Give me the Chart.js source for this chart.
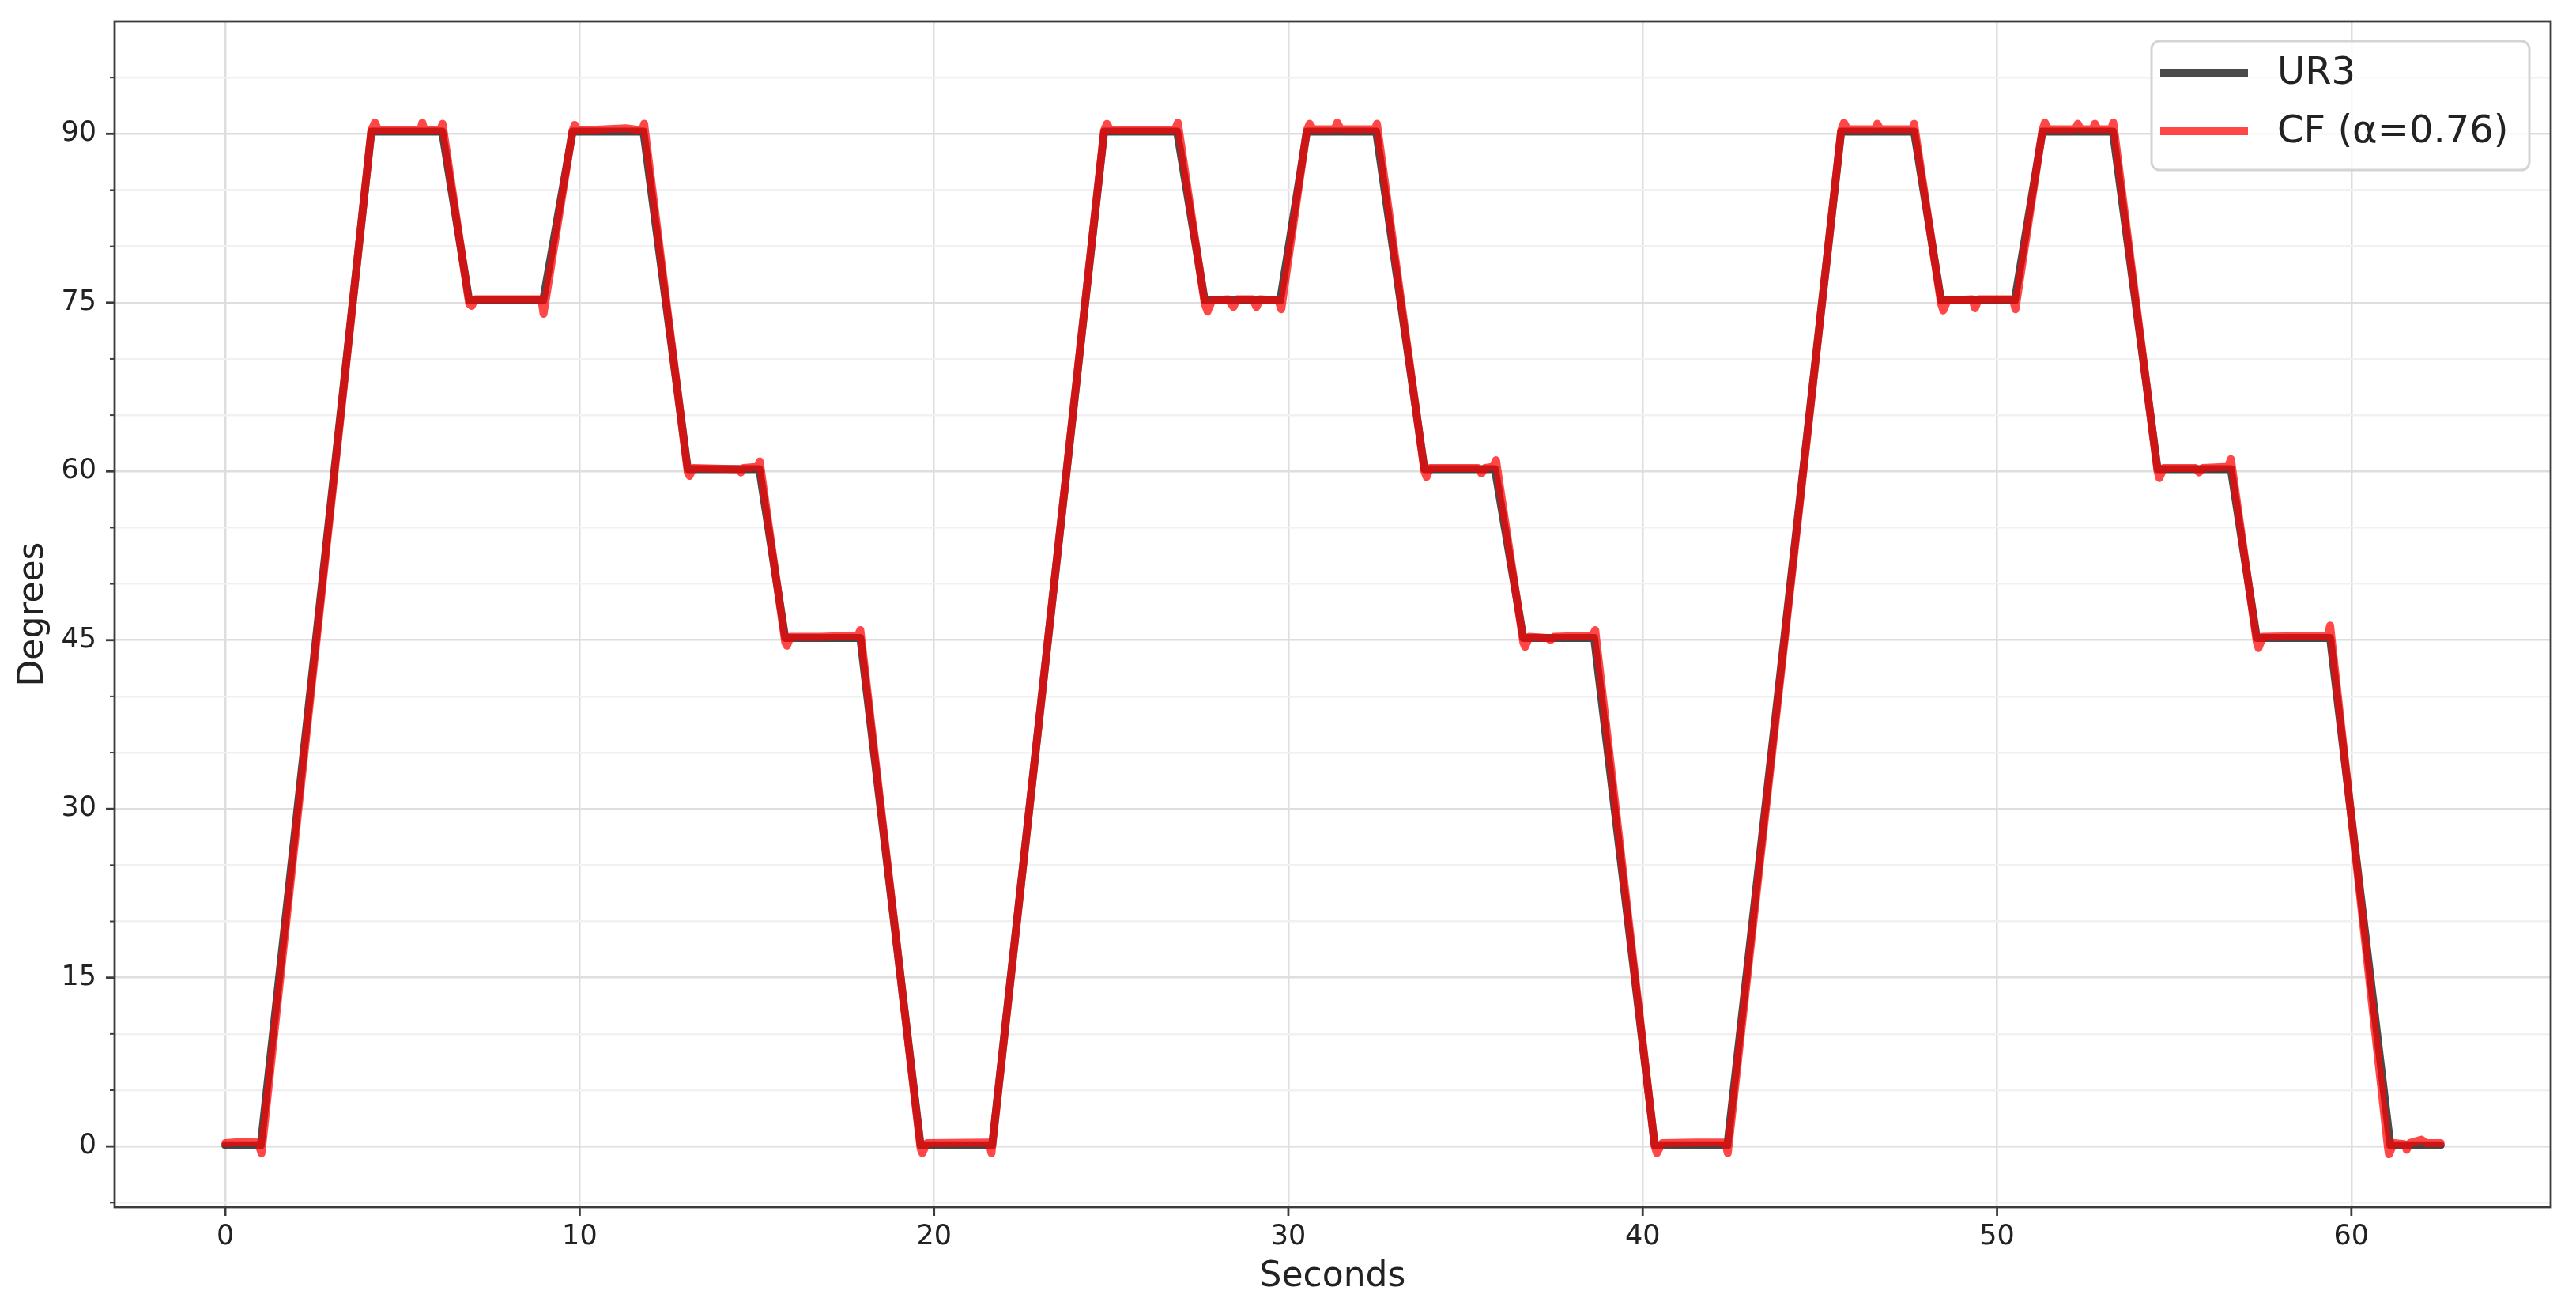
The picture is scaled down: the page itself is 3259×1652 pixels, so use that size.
<!DOCTYPE html>
<html><head><meta charset="utf-8">
<script src="https://cdn.jsdelivr.net/npm/chart.js@4.4.1/dist/chart.umd.min.js"></script>
<style>html,body{margin:0;padding:0;background:#fff;}canvas{display:block;}</style>
</head><body>
<canvas id="c" width="3259" height="1652"></canvas>
<script>
// ---------------- data ----------------
const seriesNames = ['UR3', 'CF (\u03b1=0.76)'];
const axisTitles = { x: 'Seconds', y: 'Degrees' };

// UR3 joint angle: breakpoints (seconds) and values (degrees)
const urT = [0, 1.00, 4.12, 6.12, 6.88, 8.97, 9.80, 11.80, 13.05, 15.07, 15.80, 17.92, 19.62,
  21.64, 24.80, 26.86, 27.64, 29.77, 30.52, 32.48, 33.84, 35.83, 36.63, 38.63, 40.34,
  42.39, 45.60, 47.66, 48.42, 50.50, 51.28, 53.27, 54.53, 56.60, 57.33, 59.40, 61.10, 62.52];
const urV = [0.1, 0.1, 90.2, 90.2, 75.2, 75.2, 90.2, 90.2, 60.2, 60.2, 45.2, 45.2, 0.1,
  0.1, 90.2, 90.2, 75.2, 75.2, 90.2, 90.2, 60.2, 60.2, 45.2, 45.2, 0.1,
  0.1, 90.2, 90.2, 75.2, 75.2, 90.2, 90.2, 60.2, 60.2, 45.2, 45.2, 0.1, 0.1];

// Complementary filter estimate (with its visible spikes)
const cfT = [0.00, 0.45, 0.92, 1.02, 4.12, 4.22, 4.32, 5.50, 5.56, 5.62, 6.06, 6.13, 6.88, 6.95, 7.05, 8.92, 8.98,
  9.80, 9.86, 9.95, 10.60, 11.30, 11.76, 11.82, 13.05, 13.10, 13.20, 14.50, 14.55, 14.62, 15.02, 15.08,
  15.80, 15.85, 15.95, 16.80, 17.85, 17.92, 19.62, 19.67, 19.80, 21.55, 21.62,
  24.80, 24.88, 24.98, 26.20, 26.80, 26.88, 27.64, 27.72, 27.85, 28.30, 28.45, 28.55, 29.00, 29.10, 29.20, 29.72, 29.80,
  30.52, 30.60, 30.70, 31.30, 31.38, 31.48, 32.44, 32.50, 33.84, 33.90, 34.00, 35.35, 35.45, 35.55, 35.78, 35.86,
  36.63, 36.68, 36.80, 37.30, 37.40, 37.50, 38.58, 38.66, 40.34, 40.40, 40.55, 41.50, 42.33, 42.40,
  45.60, 45.68, 45.78, 46.55, 46.62, 46.70, 47.60, 47.66, 48.42, 48.48, 48.60, 49.30, 49.38, 49.48, 50.45, 50.52,
  51.28, 51.35, 51.45, 52.20, 52.28, 52.36, 52.70, 52.76, 52.84, 53.22, 53.28, 54.53, 54.58, 54.70, 55.60, 55.70, 55.80,
  56.52, 56.60, 57.33, 57.38, 57.50, 59.33, 59.40, 61.03, 61.06, 61.20, 61.50, 61.56, 61.65, 61.98, 62.10, 62.52];
const cfV = [0.3, 0.4, 0.35, -0.6, 90.3, 91.0, 90.3, 90.3, 91.0, 90.3, 90.3, 90.9, 74.9, 74.7, 75.3, 75.3, 74.0,
  90.3, 90.8, 90.3, 90.4, 90.5, 90.3, 90.9, 59.9, 59.6, 60.3, 60.2, 59.9, 60.3, 60.4, 60.9,
  44.8, 44.5, 45.3, 45.3, 45.4, 45.9, -0.2, -0.6, 0.3, 0.35, -0.6,
  90.3, 90.9, 90.3, 90.3, 90.4, 91.0, 74.9, 74.2, 75.2, 75.3, 74.6, 75.3, 75.3, 74.6, 75.3, 75.2, 74.4,
  90.3, 90.9, 90.4, 90.4, 91.0, 90.4, 90.4, 90.9, 60.0, 59.5, 60.3, 60.3, 59.8, 60.3, 60.4, 61.0,
  44.8, 44.4, 45.3, 45.2, 45.0, 45.3, 45.4, 45.9, 0.0, -0.6, 0.3, 0.35, 0.35, -0.6,
  90.3, 91.0, 90.4, 90.4, 90.9, 90.4, 90.4, 90.9, 74.9, 74.3, 75.2, 75.3, 74.5, 75.3, 75.3, 74.4,
  90.3, 91.0, 90.4, 90.4, 90.9, 90.4, 90.4, 90.9, 90.4, 90.4, 91.0, 60.0, 59.4, 60.3, 60.3, 59.9, 60.3,
  60.4, 61.1, 44.8, 44.3, 45.3, 45.4, 46.3, -0.1, -0.7, 0.3, 0.2, -0.3, 0.3, 0.6, 0.3, 0.3];

// ticks
const xTicks = [0, 10, 20, 30, 40, 50, 60];
const yMajorTicks = [0, 15, 30, 45, 60, 75, 90];
const yMinorTicks = [-5, 5, 10, 20, 25, 35, 40, 50, 55, 65, 70, 80, 85, 95];

// axis limits
const xLim = [-3.125, 65.625];
const yLim = [-5.4, 100];

// ---------------- chart ----------------
const FONT = '"DejaVu Sans", "Liberation Sans", sans-serif';
const toPts = (t, v) => t.map((x, i) => ({ x, y: v[i] }));
const colors = ['rgba(0,0,0,0.71)', 'rgba(255,0,0,0.72)'];
const LW = 10;

const overlay = {
  id: 'overlay',
  afterDatasetsDraw(chart) {
    const { ctx, chartArea: a, scales: { x, y } } = chart;
    ctx.save();
    const seg = (x1, y1, x2, y2) => { ctx.beginPath(); ctx.moveTo(x1, y1); ctx.lineTo(x2, y2); ctx.stroke(); };
    ctx.strokeStyle = '#3c3c3c';
    ctx.lineCap = 'butt';
    ctx.lineWidth = 2.8;
    xTicks.forEach(v => { const p = x.getPixelForValue(v); seg(p, a.bottom, p, a.bottom + 11); });
    yMajorTicks.forEach(v => { const p = y.getPixelForValue(v); seg(a.left, p, a.left - 11, p); });
    ctx.lineWidth = 2;
    yMinorTicks.forEach(v => { const p = y.getPixelForValue(v); if (p >= a.top && p <= a.bottom) seg(a.left, p, a.left - 6, p); });
    // frame (spines)
    ctx.lineWidth = 2.8;
    ctx.strokeRect(a.left, a.top, a.right - a.left, a.bottom - a.top);

    // legend (upper right, inside axes)
    const bx = a.right - 505, by = a.top + 25, bw = 478, bh = 163, r = 10;
    ctx.beginPath();
    ctx.moveTo(bx + r, by);
    ctx.arcTo(bx + bw, by, bx + bw, by + bh, r);
    ctx.arcTo(bx + bw, by + bh, bx, by + bh, r);
    ctx.arcTo(bx, by + bh, bx, by, r);
    ctx.arcTo(bx, by, bx + bw, by, r);
    ctx.closePath();
    ctx.fillStyle = 'rgba(255,255,255,0.8)';
    ctx.fill();
    ctx.strokeStyle = '#d4d4d4';
    ctx.lineWidth = 3;
    ctx.stroke();
    ctx.font = '48px ' + FONT;
    ctx.textBaseline = 'middle';
    ctx.textAlign = 'left';
    chart.data.datasets.forEach((ds, i) => {
      const rowY = by + 40 + i * 74;
      ctx.strokeStyle = ds.borderColor;
      ctx.lineWidth = LW;
      ctx.lineCap = 'butt';
      seg(bx + 11, rowY, bx + 122, rowY);
      ctx.fillStyle = '#222';
      ctx.fillText(ds.label, bx + 159, rowY + 2);
    });
    ctx.restore();
  }
};

new Chart(document.getElementById('c'), {
  type: 'scatter',
  data: {
    datasets: [
      { label: seriesNames[0], data: toPts(urT, urV), borderColor: colors[0], backgroundColor: colors[0],
        borderWidth: LW, showLine: true, pointRadius: 0, pointHoverRadius: 0, order: 1,
        borderJoinStyle: 'round', borderCapStyle: 'round', tension: 0, fill: false },
      { label: seriesNames[1], data: toPts(cfT, cfV), borderColor: colors[1], backgroundColor: colors[1],
        borderWidth: LW, showLine: true, pointRadius: 0, pointHoverRadius: 0, order: 0,
        borderJoinStyle: 'round', borderCapStyle: 'round', tension: 0, fill: false }
    ]
  },
  options: {
    responsive: false,
    animation: false,
    devicePixelRatio: 1,
    events: [],
    layout: { padding: { left: 0, top: 27, right: 32, bottom: 0 } },
    plugins: { legend: { display: false }, tooltip: { enabled: false }, title: { display: false } },
    scales: {
      x: {
        type: 'linear', min: xLim[0], max: xLim[1],
        afterBuildTicks: s => { s.ticks = xTicks.map(v => ({ value: v })); },
        afterFit: s => { s.height = 125; s.paddingLeft = 0; s.paddingRight = 0; },
        ticks: { font: { family: FONT, size: 35 }, color: '#222', padding: 17, maxRotation: 0, autoSkip: false,
                 callback: v => String(v) },
        grid: { color: '#dedede', lineWidth: 2.5, drawTicks: false },
        border: { display: false },
        title: { display: true, text: axisTitles.x, font: { family: FONT, size: 44 }, color: '#222',
                 padding: { top: 0, bottom: 10 } }
      },
      y: {
        type: 'linear', min: yLim[0], max: yLim[1],
        afterBuildTicks: s => {
          s.ticks = yMajorTicks.concat(yMinorTicks).sort((a, b) => a - b).map(v => ({ value: v }));
        },
        afterFit: s => { s.width = 145; s.paddingTop = 0; s.paddingBottom = 0; },
        ticks: { font: { family: FONT, size: 35 }, color: '#222', padding: 23, autoSkip: false,
                 callback: v => (yMajorTicks.includes(v) ? String(v) : '') },
        grid: {
          color: c => (yMajorTicks.includes(c.tick && c.tick.value) ? '#dedede' : '#f1f1f1'),
          lineWidth: 2.5, drawTicks: false
        },
        border: { display: false },
        title: { display: true, text: axisTitles.y, font: { family: FONT, size: 44 }, color: '#222',
                 padding: { top: 16, bottom: 0 } }
      }
    }
  },
  plugins: [overlay]
});
</script>
</body></html>
